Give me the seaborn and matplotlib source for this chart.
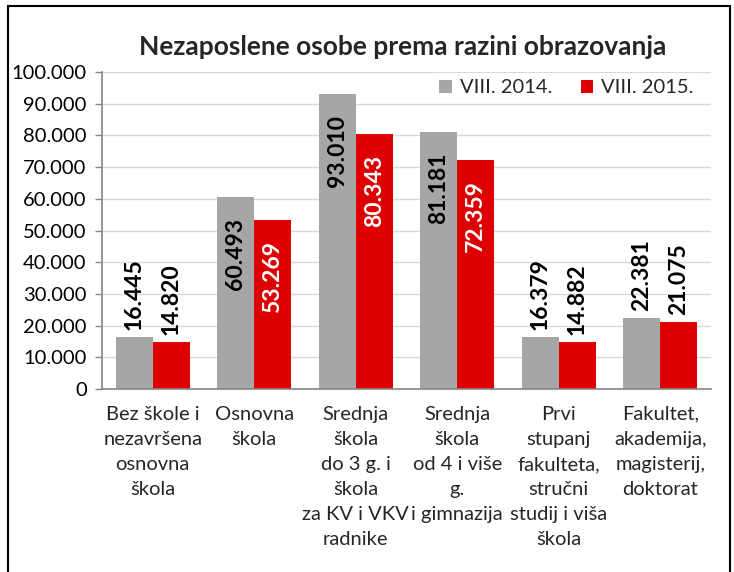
#!/usr/bin/env python
# -*- coding: utf-8 -*-

import numpy as np
import pandas as pd

import matplotlib.pyplot as plt
import matplotlib as mpl
import seaborn as sns

## ============================================================= ##

categories = ['Bez škole i\nnezavršena\nosnovna\nškola',
	'Osnovna\nškola',
	'Srednja\nškola\ndo 3 g. i\nškola\nza KV i VKV\nradnike',
	'Srednja\nškola\nod 4 i više\ng.\ni gimnazija',
	'Prvi\nstupanj\nfakulteta,\nstručni\nstudij i viša\nškola',
	'Fakultet,\nakademija,\nmagisterij,\ndoktorat']
series = ['VIII. 2014.', 'VIII. 2015.']
values_2014 = [16445, 60493, 93010, 81181, 16379, 22381]
values_2015 = [14820, 53269, 80343, 72359, 14882, 21075]
yticks = [0, 10000, 20000, 30000, 40000, 50000, 60000, 70000, 80000, 90000, 100000]

## ============================================================= ##

df = pd.DataFrame({'category': categories * 2,
	'series': [series[0]] * len(categories) + [series[1]] * len(categories),
	'value': values_2014 + values_2015})

def fmt_thousands(v):
	return '{0:,d}'.format(int(v)).replace(',', '.')

## ============================================================= ##

sns.set_style('white')
plt.rcParams['font.family'] = ['Lato', 'DejaVu Sans']

colors = {'VIII. 2014.': '#a6a6a6', 'VIII. 2015.': '#de0000'}

fig = plt.figure(figsize=(7.34, 5.72), dpi=100)
ax = fig.add_axes([102. / 734, 1 - 389. / 572, 609. / 734, 317. / 572])

sns.barplot(data=df, x='category', y='value', hue='series', palette=colors,
	width=0.73, gap=0, saturation=1, edgecolor='none', linewidth=0, ax=ax)

ax.set_ylim(0, 100000)
ax.set_yticks(yticks)
ax.set_yticklabels([fmt_thousands(v) for v in yticks], fontsize=14.5, color='black')
ax.yaxis.grid(True, color='#d9d9d9', lw=1.)
ax.set_axisbelow(True)
ax.set_xlabel('')
ax.set_ylabel('')
ax.set_xlim(-0.5, len(categories) - 0.5)
ax.set_xticks(np.arange(len(categories)))
ax.set_xticklabels(categories, fontsize=14.5, linespacing=1.58, va='top')
ax.set_xticks(np.arange(len(categories) + 1) - 0.5, minor=True)
ax.tick_params(axis='x', which='major', length=0, pad=12)
ax.tick_params(axis='x', which='minor', length=6, color='#868686', width=1.)
ax.tick_params(axis='y', which='major', length=5, color='#868686', width=1., pad=6, left=True)

for side in ['top', 'right']:
	ax.spines[side].set_visible(False)
for side in ['left', 'bottom']:
	ax.spines[side].set_color('#868686')
	ax.spines[side].set_linewidth(1.2)

# value labels: inside end for large bars, above the bar for small ones
for container, name in zip(ax.containers, series):
	for bar in container:
		h = bar.get_height()
		xc = bar.get_x() + bar.get_width() / 2.
		if h > 40000:
			col = 'white' if name == series[1] else 'black'
			ax.annotate(fmt_thousands(h), (xc, h), xytext=(0, -15), textcoords='offset points',
				rotation=90, ha='center', va='top', fontsize=16.5, fontweight='bold', color=col)
		else:
			ax.annotate(fmt_thousands(h), (xc, h), xytext=(0, 5), textcoords='offset points',
				rotation=90, ha='center', va='bottom', fontsize=16.5, fontweight='bold', color='black')

leg = ax.legend(loc='center right', bbox_to_anchor=(0.998, 0.95), ncol=2, fontsize=14.5,
	frameon=True, facecolor='white', edgecolor='none', framealpha=1., fancybox=False,
	handlelength=0.6, handleheight=0.6, handletextpad=0.4, columnspacing=1.45, borderpad=0.3)

fig.text(403. / 734, 1 - 47. / 572, 'Nezaposlene osobe prema razini obrazovanja',
	ha='center', va='center', fontsize=19, fontweight='bold')

# chart border
fig.patches.append(mpl.patches.Rectangle((8. / 734, -0.01), 722. / 734, 1 - 6. / 572 + 0.01,
	transform=fig.transFigure, fill=False, edgecolor='black', lw=1.5))

fig.savefig('out.png', dpi=100)
